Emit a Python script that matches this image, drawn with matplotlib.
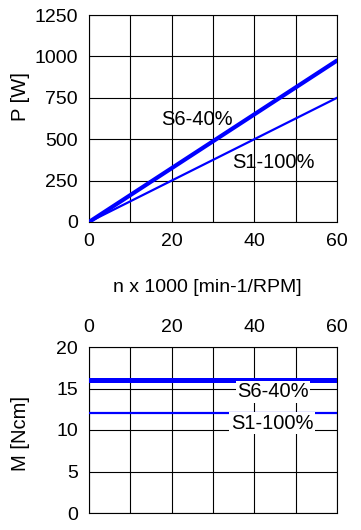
import matplotlib.pyplot as plt

plt.rcParams['font.family'] = ['Liberation Sans', 'DejaVu Sans']

# speed n x 1000 [min-1]
n = [0, 60]
# power curves [W]
p_s6 = [0, 975]
p_s1 = [0, 750]
# torque curves [Ncm]
m_s6 = [16, 16]
m_s1 = [12, 12]

blue = '#0000ff'
W, H = 361, 530
fig = plt.figure(figsize=(W / 100, H / 100), dpi=100)

# top: power
ax1 = fig.add_axes([89 / W, (H - 222) / H, 248 / W, 207 / H])
ax1.plot(n, p_s6, color=blue, lw=3.0, solid_capstyle='round', zorder=3)
ax1.plot(n, p_s1, color=blue, lw=1.6, zorder=3)
ax1.set_xlim(0, 60)
ax1.set_ylim(0, 1250)
ax1.set_xticks(range(0, 61, 10))
ax1.set_xticklabels(['0', '', '20', '', '40', '', '60'])
ax1.set_yticks(range(0, 1251, 250))
ax1.grid(True, color='black', lw=0.8)
ax1.tick_params(length=0, labelsize=14, pad=8)
ax1.set_ylabel('P [W]', fontsize=14.5)
ax1.yaxis.set_label_coords(-0.238, 0.604)
ax1.text(26.1, 616, 'S6-40%', fontsize=14.5, ha='center', va='center')
ax1.text(44.5, 362, 'S1-100%', fontsize=14.5, ha='center', va='center')

fig.text(207 / W, 1 - 288 / H, 'n x 1000 [min-1/RPM]', fontsize=14,
         ha='center', va='center')

# bottom: torque
ax2 = fig.add_axes([89 / W, (H - 513) / H, 248 / W, 166 / H])
ax2.plot(n, m_s6, color=blue, lw=3.6, solid_capstyle='round', zorder=3)
ax2.plot(n, m_s1, color=blue, lw=1.6, zorder=3)
ax2.set_xlim(0, 60)
ax2.set_ylim(0, 20)
ax2.set_xticks(range(0, 61, 10))
ax2.set_xticklabels(['0', '', '20', '', '40', '', '60'])
ax2.set_yticks(range(0, 21, 5))
ax2.xaxis.tick_top()
ax2.grid(True, color='black', lw=0.8)
ax2.tick_params(length=0, labelsize=14, pad=8)
ax2.set_ylabel('M [Ncm]', fontsize=14.5)
ax2.yaxis.set_label_coords(-0.238, 0.48)
box = dict(facecolor='white', edgecolor='none', pad=1)
ax2.text(44.5, 14.6, 'S6-40%', fontsize=14.5, ha='center', va='center', bbox=box)
ax2.text(44.3, 10.8, 'S1-100%', fontsize=14.5, ha='center', va='center', bbox=box)

for ax in (ax1, ax2):
    for s in ax.spines.values():
        s.set_linewidth(0.8)

fig.savefig('out.png', dpi=100)
